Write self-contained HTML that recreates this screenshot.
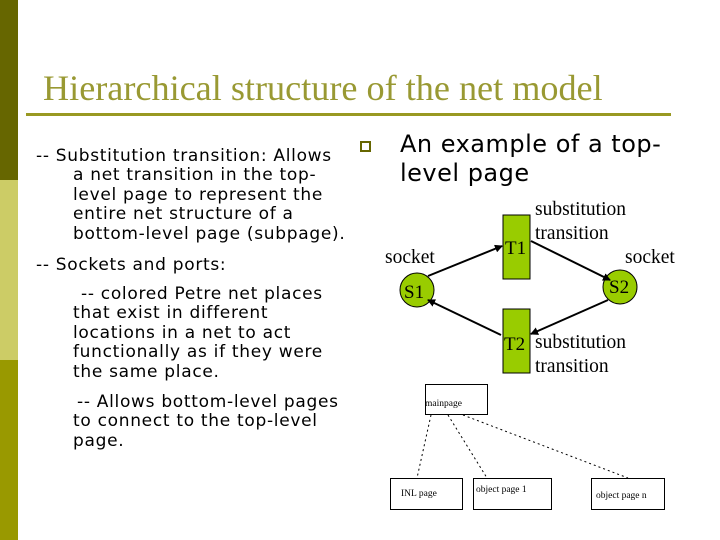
<!DOCTYPE html>
<html><head><meta charset="utf-8"><style>
body{margin:0;width:720px;height:540px;position:relative;background:#fff;overflow:hidden;font-family:"DejaVu Sans","Liberation Sans",sans-serif;}
.bar{position:absolute;left:0;width:18px;}
.t{position:absolute;white-space:nowrap;font-size:17px;letter-spacing:0.7px;color:#000;line-height:19.5px;}
.s{font-family:"Liberation Serif",serif;position:absolute;white-space:nowrap;}
</style></head><body>
<div class="bar" style="top:0;height:180px;background:#666600"></div>
<div class="bar" style="top:180px;height:180px;background:#cccc66"></div>
<div class="bar" style="top:360px;height:180px;background:#999900"></div>
<div class="s" style="left:43px;top:67px;font-size:36.2px;color:#999933;">Hierarchical structure of the net model</div>
<div style="position:absolute;left:26px;top:113px;width:645px;height:3px;background:#999922"></div>

<div class="t" style="left:36px;top:147px">-- Substitution transition: Allows</div>
<div class="t" style="left:73px;top:166px">a net transition in the top-</div>
<div class="t" style="left:73px;top:186px">level page to represent the</div>
<div class="t" style="left:73px;top:205px">entire net structure of a</div>
<div class="t" style="left:73px;top:225px">bottom-level page (subpage).</div>
<div class="t" style="left:36px;top:256px">-- Sockets and ports:</div>
<div class="t" style="left:81px;top:285px">-- colored Petre net places</div>
<div class="t" style="left:73px;top:304px">that exist in different</div>
<div class="t" style="left:73px;top:324px">locations in a net to act</div>
<div class="t" style="left:73px;top:343px">functionally as if they were</div>
<div class="t" style="left:73px;top:363px">the same place.</div>
<div class="t" style="left:77px;top:393px">-- Allows bottom-level pages</div>
<div class="t" style="left:73px;top:412px">to connect to the top-level</div>
<div class="t" style="left:73px;top:432px">page.</div>

<div style="position:absolute;left:360px;top:141px;width:7px;height:7px;border:2px solid #666600"></div>
<div class="t" style="left:400px;top:130px;font-size:24px;letter-spacing:0.5px;line-height:29px">An example of a top-</div>
<div class="t" style="left:400px;top:159px;font-size:24px;letter-spacing:0.5px;line-height:29px">level page</div>

<svg width="720" height="540" style="position:absolute;left:0;top:0" font-family="Liberation Serif,serif">
<defs><marker id="a" markerWidth="8" markerHeight="8" refX="7" refY="4" orient="auto" markerUnits="userSpaceOnUse"><path d="M0,0 L8,4 L0,8z" fill="#000"/></marker></defs>
<rect x="503" y="215" width="27" height="64" fill="#99cc00" stroke="#000" stroke-width="1"/>
<rect x="503" y="309" width="27" height="64" fill="#99cc00" stroke="#000" stroke-width="1"/>
<circle cx="417" cy="290" r="17" fill="#99cc00" stroke="#000"/>
<circle cx="620" cy="287" r="17" fill="#99cc00" stroke="#000"/>
<line x1="428" y1="276" x2="502" y2="246" stroke="#000" stroke-width="2" marker-end="url(#a)"/>
<line x1="531" y1="241" x2="610" y2="280" stroke="#000" stroke-width="2" marker-end="url(#a)"/>
<line x1="608" y1="300" x2="531" y2="334" stroke="#000" stroke-width="2" marker-end="url(#a)"/>
<line x1="501" y1="335" x2="428" y2="300" stroke="#000" stroke-width="2" marker-end="url(#a)"/>
<text x="505" y="254" font-size="19">T1</text>
<text x="504" y="350" font-size="19">T2</text>
<text x="404" y="298" font-size="19">S1</text>
<text x="609" y="293" font-size="19">S2</text>
<text x="385" y="263" font-size="19.5">socket</text>
<text x="625" y="263" font-size="19.5">socket</text>
<text x="535" y="215" font-size="19.5">substitution</text>
<text x="535" y="239" font-size="19.5">transition</text>
<text x="535" y="348" font-size="19.5">substitution</text>
<text x="535" y="372" font-size="19.5">transition</text>
<g fill="none" stroke="#000" stroke-width="1">
<rect x="425.5" y="384.5" width="62" height="30"/>
<rect x="390.5" y="478.5" width="72" height="31"/>
<rect x="473.5" y="478.5" width="78" height="31"/>
<rect x="591.5" y="478.5" width="73" height="31"/>
</g>
<g stroke="#000" stroke-dasharray="2,3">
<line x1="431" y1="415" x2="417" y2="478"/>
<line x1="448" y1="415" x2="487" y2="478"/>
<line x1="463" y1="415" x2="628" y2="478"/>
</g>
<text x="425" y="406" font-size="9.5">mainpage</text>
<text x="401" y="496" font-size="9.5">INL page</text>
<text x="476" y="492" font-size="9.5">object page 1</text>
<text x="596" y="498" font-size="9.5">object page n</text>
</svg>
</body></html>
